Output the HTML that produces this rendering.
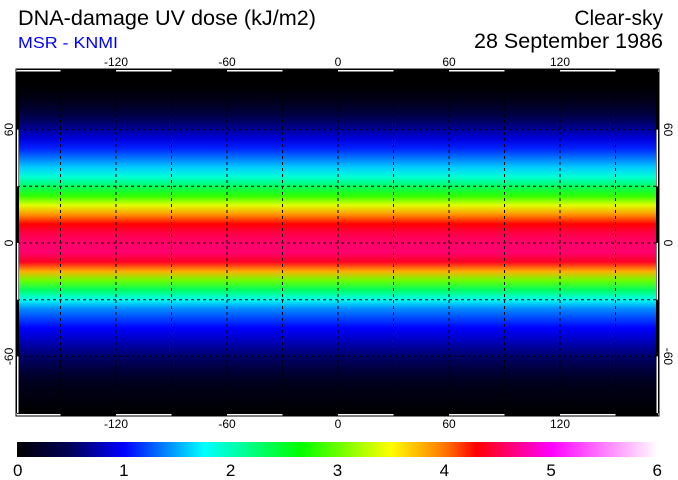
<!DOCTYPE html>
<html><head><meta charset="utf-8"><style>
html,body{margin:0;padding:0;background:#fff;}
svg{display:block;font-family:"Liberation Sans",sans-serif;}
</style></head><body>
<svg id="chart" width="678" height="480" viewBox="0 0 678 480" xmlns="http://www.w3.org/2000/svg">
<text x="18" y="25" font-size="21" textLength="298" lengthAdjust="spacingAndGlyphs">DNA-damage UV dose (kJ/m2)</text>
<text x="18" y="48" font-size="16" fill="#0000ff" textLength="100" lengthAdjust="spacingAndGlyphs">MSR - KNMI</text>
<text x="663" y="25" font-size="21" text-anchor="end">Clear-sky</text>
<text x="663" y="48" font-size="21" text-anchor="end" textLength="189" lengthAdjust="spacingAndGlyphs">28 September 1986</text>
<g id="map"></g>
<g id="grid"></g>
<g id="frame"></g>
<g id="ticks"></g>
<g id="cbar"></g>
</svg>
<script>
// zonal profile of UV dose (kJ/m2) by latitude
const lats = [90,85,80,75,70,65,60,55,50,45,40,35,30,25,20,15,10,5,0,-5,-10,-15,-20,-25,-30,-35,-40,-45,-50,-55,-60,-65,-70,-75,-80,-85,-90];
const doses = [0.0,0.0,0.05,0.15,0.3,0.5,0.7,0.9,1.1,1.35,1.6,1.9,2.3,2.8,3.4,3.9,4.3,4.5,4.6,4.6,4.4,3.8,3.0,2.3,1.8,1.4,1.2,1.0,0.85,0.7,0.55,0.4,0.25,0.15,0.1,0.05,0.0];
const lonTicks = [-120,-60,0,60,120];
const latTicks = [60,0,-60];
const cbarTicks = [0,1,2,3,4,5,6];
// colour scale stops: value -> colour
const stopVals = [0,0.5,1,1.75,2.65,3.5,4,4.3,5,6];
const stopCols = [[0,0,0],[0,0,90],[0,0,255],[0,255,255],[0,255,0],[255,255,0],[255,120,0],[255,0,0],[255,0,255],[255,255,255]];

const NS="http://www.w3.org/2000/svg";
const L=17,R=658,T=72,B=413;
const x=lon=>338+lon*1.85;
const y=lat=>243-lat*1.89;
function col(v){
  v=Math.max(0,Math.min(6,v));
  for(let i=0;i<stopVals.length-1;i++){
    if(v<=stopVals[i+1]){const t=(v-stopVals[i])/(stopVals[i+1]-stopVals[i]);
      const a=stopCols[i],b=stopCols[i+1];
      return 'rgb('+a.map((c,k)=>Math.round(c+(b[k]-c)*t)).join(',')+')';}
  }
  return 'rgb(255,255,255)';
}
function mk(tag,attrs,parent){const e=document.createElementNS(NS,tag);for(const k in attrs)e.setAttribute(k,attrs[k]);parent.appendChild(e);return e;}
const map=document.getElementById('map');
const defs=mk('defs',{},map);
const g=mk('linearGradient',{id:'lat-grad',x1:0,y1:y(90),x2:0,y2:y(-90),gradientUnits:'userSpaceOnUse'},defs);
lats.forEach((la,i)=>{mk('stop',{offset:((90-la)/180).toFixed(4),'stop-color':col(doses[i])},g);});
const bg=mk('rect',{x:L,y:T,width:R-L,height:B-T,fill:'url(#lat-grad)'},map);



const grid=document.getElementById('grid');
for(let lo=-150;lo<=150;lo+=30){const l=mk('line',{x1:x(lo),x2:x(lo),y1:T,y2:B,stroke:'#000','stroke-width':1,'stroke-dasharray':'3,3'},grid);
 
 }
for(let la=-60;la<=60;la+=30){const l=mk('line',{x1:L,x2:R,y1:y(la),y2:y(la),stroke:'#000','stroke-width':1,'stroke-dasharray':'3,3'},grid);
 
 }

const fr=document.getElementById('frame');
mk('rect',{x:L-1,y:T-3,width:R-L+2,height:B-T+6,fill:'none',stroke:'#000','stroke-width':1},fr);
mk('rect',{x:L,y:T-3,width:R-L,height:3,fill:'#000'},fr);
mk('rect',{x:L,y:B,width:R-L,height:3,fill:'#000'},fr);
mk('rect',{x:L-1,y:T,width:3,height:B-T,fill:'#000'},fr);
mk('rect',{x:R-2,y:T,width:3,height:B-T,fill:'#000'},fr);
for(let lo=-180;lo<180;lo+=60){const a=Math.max(L,x(lo)),b=Math.min(R,x(lo+30));if(b>a){
 mk('rect',{x:a,y:T-2,width:b-a,height:1.5,fill:'#fff'},fr);
 mk('rect',{x:a,y:B+1,width:b-a,height:1.5,fill:'#fff'},fr);}}
for(let la=60;la>-90;la-=60){const a=y(la),b=y(la-30);
 mk('rect',{x:L,y:a,width:1.5,height:b-a,fill:'#fff'},fr);
 mk('rect',{x:R-1.5,y:a,width:1.5,height:b-a,fill:'#fff'},fr);}

const tk=document.getElementById('ticks');
lonTicks.forEach(v=>{
 const t1=mk('text',{x:x(v),y:66,'font-size':12,'text-anchor':'middle'},tk);t1.textContent=v;
 
 
 const t2=mk('text',{x:x(v),y:428,'font-size':12,'text-anchor':'middle'},tk);t2.textContent=v;
 
 
});
latTicks.forEach(v=>{
 const t1=mk('text',{x:0,y:0,'font-size':12,'text-anchor':'middle',transform:'translate(13,'+y(v)+') rotate(-90)'},tk);t1.textContent=v;
 
 
 const t2=mk('text',{x:0,y:0,'font-size':12,'text-anchor':'middle',transform:'translate(664,'+y(v)+') rotate(90)'},tk);t2.textContent=v;
 
 
});

const cb=document.getElementById('cbar');
const cx=v=>17+v*(658-17)/6;
const cg=mk('linearGradient',{id:'cb-grad',x1:cx(0),x2:cx(6),y1:0,y2:0,gradientUnits:'userSpaceOnUse'},defs);
stopVals.forEach((v,i)=>{mk('stop',{offset:(v/6).toFixed(4),'stop-color':'rgb('+stopCols[i].join(',')+')'},cg);});
const cr=mk('rect',{x:cx(0),y:442,width:cx(6)-cx(0),height:15,fill:'url(#cb-grad)'},cb);


cbarTicks.forEach(v=>{const t=mk('text',{x:cx(v),y:476,'font-size':17,'text-anchor':v===0?'start':(v===6?'end':'middle')},cb);t.textContent=v;
 if(v===0)t.setAttribute('x',cx(v)-4); if(v===6)t.setAttribute('x',cx(v)+4);
 
 });
</script>
</body></html>
